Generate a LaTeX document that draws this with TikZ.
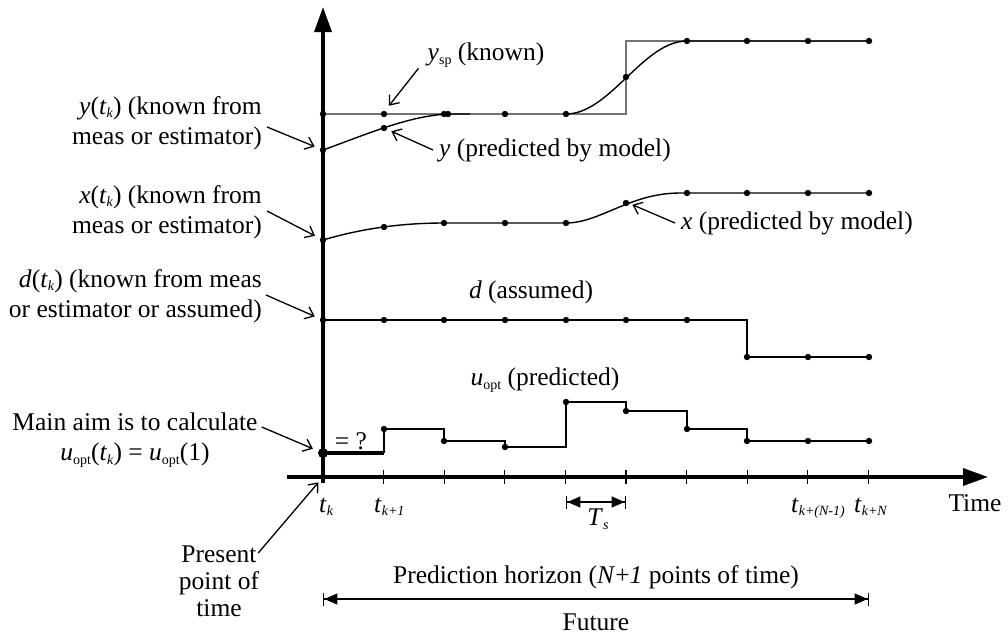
\documentclass[tikz,border=0pt]{standalone}
\usepackage{fontspec}
\setmainfont{Liberation Serif}
\usetikzlibrary{arrows.meta}
\newcommand{\lowsub}[1]{\raisebox{-0.3ex}{\fontsize{14}{14}\selectfont #1}}
\newcommand{\tk}{\textit{t}\lowsub{\textit{k}}}

\begin{document}
\begin{tikzpicture}[x=1pt, y=-1pt,
    axis/.style={line width=3.5pt, -{Triangle[length=25pt,width=17pt]}},
    sig/.style={line width=1.4pt},
    setpt/.style={line width=1.4pt, black!55},
    lbl/.style={line width=1.3pt, -{Straight Barb[length=8pt,width=13pt]}, shorten >=9pt},
    span/.style={line width=1.4pt, {Bar[width=13pt,sep=0pt]Triangle[length=13pt,width=11pt,sep=0pt]}-{Triangle[length=13pt,width=11pt,sep=0pt]Bar[width=13pt,sep=0pt]}},
    txt/.style={font=\fontsize{25.5}{30}\selectfont, inner sep=1pt}]
    \useasboundingbox (0,0) rectangle (1008,637);

    % time axis and ticks
    \foreach \i in {0,...,9}
        \coordinate (t\i) at ({323+60.6*\i},477);
    \foreach \i in {1,...,9}
        \draw[line width=1.3pt] (t\i) ++(0,-7) -- ++(0,14);
    \draw[axis] (287,477) -- (988,477);
    \draw[axis] (323,483) -- (323,7);

    % points the labels point at
    \coordinate (y0) at (323,150);
    \coordinate (y1) at (384,128);
    \coordinate (ysp1) at (384,112);
    \coordinate (x0) at (323,240);
    \coordinate (x5) at (626,202);
    \coordinate (d0) at (323,320);
    \coordinate (u0) at (323,453);

    % set-point and predicted y
    \draw[setpt] (323,114) -- (626,114) -- (626,41) -- (869,41);
    \draw[sig] (y0) .. controls (365,135) and (410,115) .. (450,114) -- (470,114);
    \draw[sig] (566,114) .. controls (610,114) and (643,41) .. (687,41) -- (869,41);
    \foreach \x/\y in {323/114, 384/114, 444/114, 448/114, 505/114, 566/114, 626/77,
                       687/41, 747/41, 808/41, 869/41, 323/150, 384/128}
        \fill (\x,\y) circle (3.2pt);

    % predicted x
    \draw[sig] (x0) .. controls (360,229) and (400,223) .. (444,223) -- (566,223)
        .. controls (600,223) and (630,193) .. (680,193) -- (869,193);
    \foreach \x/\y in {323/240, 384/227, 444/223, 505/223, 566/223, 626/203,
                       687/193, 747/193, 808/193, 869/193}
        \fill (\x,\y) circle (3.2pt);

    % disturbance
    \draw[sig] (d0) -- (747,320) -- (747,357) -- (869,357);
    \foreach \x/\y in {323/320, 384/320, 444/320, 505/320, 566/320, 626/320,
                       687/320, 747/357, 808/357, 869/357}
        \fill (\x,\y) circle (3.2pt);

    % control signal
    \draw[line width=3.5pt] (u0) -- (384,453);
    \draw[sig] (384,453) -- (384,429) -- (444,429) -- (444,441) -- (505,441) -- (505,447)
        -- (566,447) -- (566,402) -- (626,402) -- (626,411) -- (687,411) -- (687,429)
        -- (747,429) -- (747,441) -- (869,441);
    \foreach \x/\y in {384/429, 444/441, 505/447, 566/402, 626/411, 687/429,
                       747/441, 808/441, 869/441}
        \fill (\x,\y) circle (3.2pt);
    \fill (u0) circle (5pt);

    % labels on the curves
    \node[txt] (ysplab) at (486,55) {\textit{y}\lowsub{sp} (known)};
    \node[txt, anchor=west] (ypred) at (438,150) {\textit{y} (predicted by model)};
    \node[txt, anchor=west] (xpred) at (680,223) {\textit{x} (predicted by model)};
    \node[txt] (dlab) at (531,292) {\textit{d} (assumed)};
    \node[txt] (ulab) at (545,380) {\textit{u}\lowsub{opt} (predicted)};
    \node[txt] (unknown) at (351,441) {= ?};

    % labels on the left
    \node[txt, align=right, anchor=east] (ytk) at (263,123) {\textit{y}(\tk) (known from\\meas or estimator)};
    \node[txt, align=right, anchor=east] (xtk) at (263,212) {\textit{x}(\tk) (known from\\meas or estimator)};
    \node[txt, align=right, anchor=east] (dtk) at (263,296) {\textit{d}(\tk) (known from meas\\or estimator or assumed)};
    \node[txt, align=center] (aim) at (135,440) {Main aim is to calculate\\\textit{u}\lowsub{opt}(\tk) = \textit{u}\lowsub{opt}(1)};
    \node[txt, align=center, font=\fontsize{25.5}{27}\selectfont] (now) at (219,581) {Present\\point of\\time};

    % time labels
    \node[txt, anchor=base west] (tklab) at (318,512) {\tk};
    \node[txt, anchor=base west] (tk1lab) at (373,512) {\textit{t}\lowsub{\textit{k+1}}};
    \node[txt, anchor=base west] (tkN1lab) at (790,512) {\textit{t}\lowsub{\textit{k+(N-1)}}};
    \node[txt, anchor=base west] (tkNlab) at (853,512) {\textit{t}\lowsub{\textit{k+N}}};
    \node[txt] (time) at (975,503) {Time};

    % sample time and horizon
    \coordinate (ts0) at (566,502);
    \coordinate (ts1) at (626,502);
    \draw[span] (ts0) -- (ts1);
    \node[txt] (ts) at (598,519) {\textit{T}\lowsub{\textit{s}}};
    \coordinate (hz0) at (323,599);
    \coordinate (hz1) at (869,599);
    \draw[span] (hz0) -- (hz1);
    \node[txt] (hzlab) at (596,577) {Prediction horizon (\textit{N}+\textit{1} points of time)};
    \node[txt] (future) at (596,622) {Future};

    % pointers
    \draw[lbl, shorten >=8pt] ([xshift=-8pt]ysplab.south west) -- (ysp1);
    \draw[lbl, shorten >=8pt] ([xshift=-5pt]ypred.west) -- (y1);
    \draw[lbl, shorten >=7pt] ([xshift=-5pt]xpred.west) -- (x5);
    \draw[lbl] ([xshift=4pt,yshift=-4pt]ytk.east) -- (y0);
    \draw[lbl] ([xshift=4pt,yshift=1pt]xtk.east) -- (x0);
    \draw[lbl] ([xshift=3pt,yshift=1pt]dtk.east) -- (d0);
    \draw[lbl, shorten >=11pt] ([xshift=3pt,yshift=13pt]aim.east) -- (u0);
    \draw[lbl, shorten >=7pt] ([xshift=-2pt,yshift=28pt]now.east) -- (t0);
\end{tikzpicture}
\end{document}
